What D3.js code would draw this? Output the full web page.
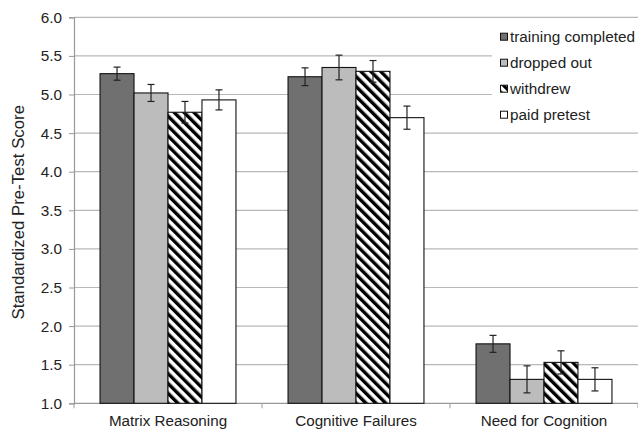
<!DOCTYPE html>
<html><head><meta charset="utf-8">
<script src="https://cdn.jsdelivr.net/npm/d3@7"></script>
<style>body{margin:0;background:#fff}svg{display:block}text{font-family:"Liberation Sans",Arial,sans-serif}</style>
</head><body>
<svg id="c" width="638" height="432"></svg>
<script>
const categories = ["Matrix Reasoning", "Cognitive Failures", "Need for Cognition"];
const seriesNames = ["training completed", "dropped out", "withdrew", "paid pretest"];
const trainingCompleted = [5.27, 5.23, 1.77];
const droppedOut = [5.02, 5.35, 1.31];
const withdrew = [4.77, 5.30, 1.53];
const paidPretest = [4.93, 4.70, 1.31];
const errTraining = [0.085, 0.115, 0.11];
const errDropped = [0.11, 0.16, 0.175];
const errWithdrew = [0.14, 0.14, 0.15];
const errPaid = [0.13, 0.15, 0.15];
const yTicks = [1.0, 1.5, 2.0, 2.5, 3.0, 3.5, 4.0, 4.5, 5.0, 5.5, 6.0];

const values = [trainingCompleted, droppedOut, withdrew, paidPretest];
const errs = [errTraining, errDropped, errWithdrew, errPaid];
const fills = ["#707070", "#bcbcbc", "url(#hatch)", "#ffffff"];

const svg = d3.select("#c");
const defs = svg.append("defs");
const pat = defs.append("pattern").attr("id","hatch").attr("patternUnits","userSpaceOnUse")
  .attr("width",7).attr("height",7).attr("patternTransform","rotate(-45)");
pat.append("rect").attr("width",7).attr("height",7).attr("fill","#fff");
pat.append("rect").attr("width",3.4).attr("height",7).attr("fill","#000");

const L = 74, R = 638, T = 17.3, B = 403.3;
const y = d3.scaleLinear().domain([1, 6]).range([B, T]);
const x0 = d3.scaleBand().domain(categories).range([L, R]).paddingInner(0.277).paddingOuter(0.1385);
const x1 = d3.scaleBand().domain(seriesNames).range([0, x0.bandwidth()]);

// gridlines
svg.append("g").selectAll("line").data(yTicks.slice(1)).join("line")
  .attr("x1", L).attr("x2", R).attr("y1", d => y(d)).attr("y2", d => y(d))
  .attr("stroke", "#b8b8b8").attr("stroke-width", 1.2);

// y axis
const ya = svg.append("g").attr("transform", `translate(${L},0)`)
  .call(d3.axisLeft(y).tickValues(yTicks).tickFormat(d3.format(".1f")).tickSize(5).tickPadding(7));
ya.select(".domain").attr("stroke", "#999").attr("stroke-width", 1.2);
ya.selectAll(".tick line").attr("stroke", "#999");
ya.selectAll("text").attr("font-size", 15.3).attr("fill", "#222")
  .attr("font-family", '"Liberation Sans",Arial,sans-serif');

// x axis
const step = (R - L) / categories.length;
svg.append("line").attr("x1", L).attr("x2", R).attr("y1", B).attr("y2", B).attr("stroke", "#999").attr("stroke-width", 1.2);
svg.append("g").selectAll("line").data(d3.range(categories.length + 1)).join("line")
  .attr("x1", i => L + i * step).attr("x2", i => L + i * step).attr("y1", B).attr("y2", B + 5).attr("stroke", "#999");
svg.append("g").selectAll("text").data(categories).join("text")
  .attr("x", d => x0(d) + x0.bandwidth() / 2).attr("y", 425.5)
  .attr("text-anchor", "middle").attr("font-size", 15.2).attr("fill", "#222").text(d => d);

// y label
svg.append("text").attr("transform", `translate(24,${(T + B) / 2 + 2}) rotate(-90)`)
  .attr("text-anchor", "middle").attr("font-size", 16.8).attr("fill", "#222")
  .text("Standardized Pre-Test Score");

// legend background
svg.append("rect").attr("x", 492).attr("y", 22).attr("width", 146).attr("height", 104).attr("fill", "#fff");

// bars
seriesNames.forEach((s, si) => {
  const g = svg.append("g");
  g.selectAll("rect").data(categories).join("rect")
    .attr("x", (c) => x0(c) + x1(s)).attr("width", x1.bandwidth())
    .attr("y", (c, i) => y(values[si][i])).attr("height", (c, i) => B - y(values[si][i]))
    .attr("fill", fills[si]).attr("stroke", "#111").attr("stroke-width", 1.1);
});
// error bars
seriesNames.forEach((s, si) => {
  const g = svg.append("g").attr("stroke", "#222").attr("stroke-width", 1.2);
  categories.forEach((c, i) => {
    const cx = x0(c) + x1(s) + x1.bandwidth() / 2;
    const v = values[si][i], e = errs[si][i];
    g.append("line").attr("x1", cx).attr("x2", cx).attr("y1", y(v + e)).attr("y2", y(v - e));
    g.append("line").attr("x1", cx - 3.5).attr("x2", cx + 3.5).attr("y1", y(v + e)).attr("y2", y(v + e));
    g.append("line").attr("x1", cx - 3.5).attr("x2", cx + 3.5).attr("y1", y(v - e)).attr("y2", y(v - e));
  });
});

// legend
const lg = svg.append("g");
seriesNames.forEach((s, i) => {
  const cy = 36.7 + i * 26;
  lg.append("rect").attr("x", 500.5).attr("y", cy - 3.5).attr("width", 7).attr("height", 7)
    .attr("fill", fills[i]).attr("stroke", "#111").attr("stroke-width", 1);
  lg.append("text").attr("x", 510).attr("y", cy + 5.3).attr("font-size", 15.3).attr("fill", "#222").text(s);
});
</script>
</body></html>
